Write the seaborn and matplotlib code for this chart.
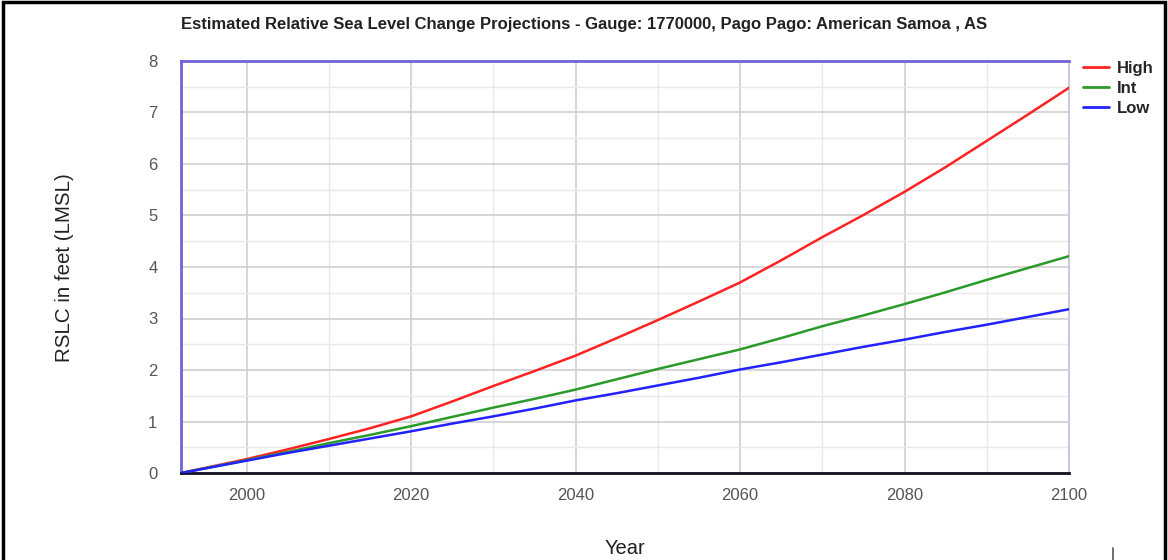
import numpy as np
import pandas as pd
import matplotlib
matplotlib.use("Agg")
import matplotlib.pyplot as plt
from matplotlib.lines import Line2D
from matplotlib.patches import Rectangle
from matplotlib.ticker import MultipleLocator
import seaborn as sns

# values
years = [1992, 2000, 2005, 2010, 2015, 2020, 2025, 2030, 2035, 2040, 2045, 2050,
         2055, 2060, 2065, 2070, 2075, 2080, 2085, 2090, 2095, 2100]
high = [0.0, 0.27, 0.46, 0.66, 0.87, 1.10, 1.39, 1.69, 1.98, 2.28, 2.62, 2.97,
        3.33, 3.70, 4.13, 4.58, 5.01, 5.46, 5.94, 6.45, 6.96, 7.48]
intermediate = [0.0, 0.25, 0.41, 0.58, 0.74, 0.91, 1.09, 1.27, 1.44, 1.62, 1.82, 2.02,
                2.21, 2.40, 2.62, 2.85, 3.06, 3.28, 3.51, 3.75, 3.98, 4.21]
low = [0.0, 0.24, 0.39, 0.53, 0.67, 0.81, 0.96, 1.10, 1.25, 1.41, 1.55, 1.70,
       1.85, 2.01, 2.15, 2.30, 2.45, 2.59, 2.74, 2.88, 3.03, 3.18]
series_names = ["High", "Int", "Low"]
series_colors = ["#ff2222", "#2a9a2a", "#2222ff"]

title = "Estimated Relative Sea Level Change Projections - Gauge: 1770000, Pago Pago: American Samoa , AS"

df = pd.concat(
    [
        pd.DataFrame({"Year": years, "RSLC": vals, "Scenario": name})
        for name, vals in zip(series_names, [high, intermediate, low])
    ]
)

sns.set_style("white")
plt.rcParams["font.family"] = ["Liberation Sans", "DejaVu Sans"]

fig = plt.figure(figsize=(11.68, 5.6), dpi=100)
ax = fig.add_axes([181 / 1168, 1 - 473 / 560, (1069 - 181) / 1168, (473 - 61) / 560])

sns.lineplot(
    data=df,
    x="Year",
    y="RSLC",
    hue="Scenario",
    palette=dict(zip(series_names, series_colors)),
    linewidth=1.8,
    ax=ax,
    legend=False,
    zorder=3,
)

ax.set_xlim(1992, 2100)
ax.set_ylim(0, 8)
ax.xaxis.set_major_locator(MultipleLocator(20))
ax.xaxis.set_minor_locator(MultipleLocator(10))
ax.yaxis.set_major_locator(MultipleLocator(1))
ax.yaxis.set_minor_locator(MultipleLocator(0.5))
ax.grid(which="major", color="#cfcfcf", linewidth=1.2, zorder=0)
ax.grid(which="minor", color="#e8e8e8", linewidth=1.0, zorder=0)
ax.tick_params(which="both", length=0)
ax.tick_params(axis="x", pad=11, labelsize=12, labelcolor="#555555")
ax.tick_params(axis="y", pad=17, labelsize=12, labelcolor="#555555")

for side in ["left", "top"]:
    ax.spines[side].set_visible(True)
    ax.spines[side].set_color("#6f63d8")
    ax.spines[side].set_linewidth(2)
ax.spines["right"].set_color("#cbcbe0")
ax.spines["right"].set_linewidth(1.5)
ax.spines["bottom"].set_color("#111122")
ax.spines["bottom"].set_linewidth(2)

ax.set_xlabel("")
ax.set_ylabel("")
fig.text(625 / 1168, 1 - 549 / 560, "Year", fontsize=14.5, ha="center", va="center",
         color="#222222")
fig.text(65 / 1168, 1 - 268 / 560, "RSLC in feet (LMSL)", fontsize=14.8, rotation=90,
         ha="center", va="center", color="#222222")

fig.text(181 / 1168, 1 - 25 / 560, title, fontsize=12, fontweight="bold",
         ha="left", va="center", color="#222222")

handles = [Line2D([0], [0], color=c, linewidth=2) for c in series_colors]
leg = fig.legend(
    handles,
    series_names,
    loc="upper left",
    bbox_to_anchor=(1083 / 1168, 1 - 61 / 560),
    frameon=False,
    borderpad=0,
    borderaxespad=0,
    handlelength=1.56,
    handletextpad=0.5,
    labelspacing=0.3,
    prop={"weight": "bold", "size": 12},
)

# outer frame of the screenshot
fig.add_artist(Rectangle((3 / 1168, -0.05), 1 - 6 / 1168, 1.05 - 2 / 560,
                         transform=fig.transFigure, fill=False,
                         edgecolor="black", linewidth=2.5))
fig.add_artist(Line2D([1113 / 1168, 1113 / 1168], [0, 12 / 560],
                      transform=fig.transFigure, color="#555555", linewidth=1.2))

fig.savefig("out.png", dpi=100)
